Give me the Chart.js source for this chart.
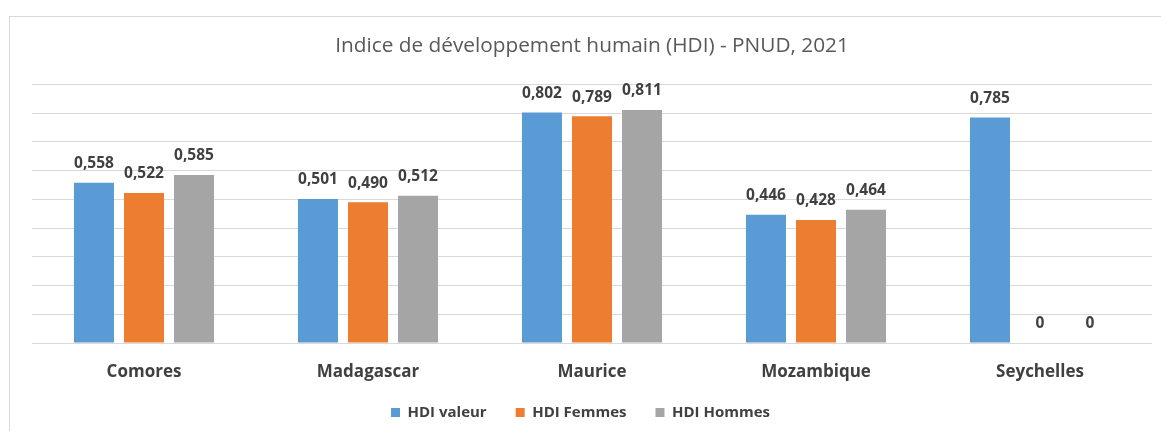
<!DOCTYPE html>
<html>
<head>
<meta charset="utf-8">
<script src="https://cdn.jsdelivr.net/npm/chart.js@4.4.0/dist/chart.umd.min.js"></script>
<style>
  html, body { margin: 0; padding: 0; background: #fff; }
  body { width: 1161px; height: 431px; position: relative; overflow: hidden; }
  #frame { position: absolute; left: 9px; top: 16px; width: 1200px; height: 500px;
           border-left: 1px solid #d9d9d9; border-top: 1px solid #d9d9d9; box-sizing: border-box; }
  #wrap { position: absolute; left: 0; top: 0; width: 1161px; height: 431px; }
</style>
</head>
<body>
<div id="frame"></div>
<div id="wrap"><canvas id="c" width="1161" height="431"></canvas></div>
<script>
const titleText = "Indice de développement humain (HDI) - PNUD, 2021";
const categories = ["Comores", "Madagascar", "Maurice", "Mozambique", "Seychelles"];
const seriesNames = ["HDI valeur", "HDI Femmes", "HDI Hommes"];
const hdiValeur = [0.558, 0.501, 0.802, 0.446, 0.785];
const hdiFemmes = [0.522, 0.490, 0.789, 0.428, 0];
const hdiHommes = [0.585, 0.512, 0.811, 0.464, 0];
const colors = ["#5B9BD5", "#ED7D31", "#A5A5A5"];

const FONT = "'Open Sans', 'DejaVu Sans', sans-serif";

const valueLabels = {
  id: 'valueLabels',
  afterDatasetsDraw(chart) {
    const ctx = chart.ctx;
    ctx.save();
    ctx.font = "bold 15.5px " + FONT;
    ctx.fillStyle = "#404040";
    ctx.textAlign = "center";
    ctx.textBaseline = "middle";
    chart.data.datasets.forEach((ds, i) => {
      const meta = chart.getDatasetMeta(i);
      meta.data.forEach((bar, j) => {
        const v = ds.data[j];
        const txt = v === 0 ? "0" : v.toFixed(3).replace(".", ",");
        ctx.fillText(txt, bar.x, bar.y - 19);
      });
    });
    ctx.restore();
  }
};

// nudge the legend row up a little after layout
const legendShift = {
  id: 'legendShift',
  afterLayout(chart) {
    const lg = chart.legend;
    if (lg) { lg.top -= 6; lg.bottom -= 6; }
  }
};

const chart = new Chart(document.getElementById('c'), {
  type: 'bar',
  data: {
    labels: categories,
    datasets: [
      { label: seriesNames[0], data: hdiValeur, backgroundColor: colors[0] },
      { label: seriesNames[1], data: hdiFemmes, backgroundColor: colors[1] },
      { label: seriesNames[2], data: hdiHommes, backgroundColor: colors[2] }
    ]
  },
  options: {
    responsive: false,
    animation: false,
    layout: { padding: { left: 9, right: 9, top: 0, bottom: 0 } },
    datasets: { bar: { categoryPercentage: 0.67, barPercentage: 0.8 } },
    plugins: {
      title: {
        display: true, text: titleText, color: "#595959", fullSize: false,
        font: { family: FONT, size: 20.8, weight: 'normal' },
        padding: { top: 34, bottom: 25.4 }
      },
      legend: {
        position: 'bottom',
        maxHeight: 49,
        labels: {
          boxWidth: 9, boxHeight: 9, padding: 29, color: "#404040",
          font: { family: FONT, size: 15, weight: 'bold' }
        }
      },
      tooltip: { enabled: false }
    },
    scales: {
      x: {
        grid: { display: false, drawTicks: false },
        border: { display: false },
        ticks: { color: "#404040", padding: 19, font: { family: FONT, size: 17, weight: 'bold' } },
        afterFit(s) { s.height = 39; }
      },
      y: {
        min: 0, max: 0.9,
        ticks: { display: false, stepSize: 0.1 },
        grid: { color: "#d9d9d9", drawTicks: false },
        border: { display: false },
        afterFit(s) { s.width = 23; }
      }
    }
  },
  plugins: [valueLabels, legendShift]
});
</script>
</body>
</html>
